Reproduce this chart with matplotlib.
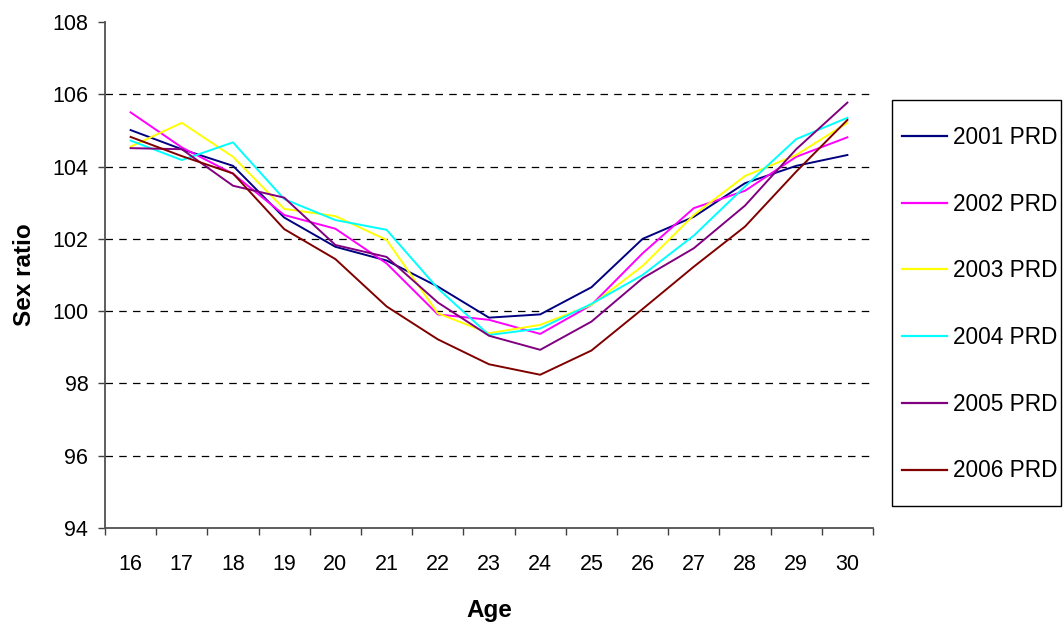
import matplotlib
matplotlib.use("Agg")
import matplotlib.pyplot as plt
from matplotlib.ticker import MultipleLocator, FixedLocator
from matplotlib.patches import Rectangle

plt.rcParams['font.family'] = ['Liberation Sans', 'DejaVu Sans']

ages = list(range(16, 31))
series_names = ["2001 PRD", "2002 PRD", "2003 PRD", "2004 PRD", "2005 PRD", "2006 PRD"]
colors = ["#000080", "#FF00FF", "#FFFF00", "#00FFFF", "#800080", "#800000"]

prd_2001 = [105.01, 104.48, 104.02, 102.59, 101.78, 101.40, 100.68, 99.82, 99.91, 100.66, 102.00, 102.61, 103.54, 104.02, 104.32]
prd_2002 = [105.50, 104.53, 103.80, 102.66, 102.28, 101.32, 99.91, 99.76, 99.37, 100.17, 101.60, 102.85, 103.33, 104.27, 104.81]
prd_2003 = [104.55, 105.21, 104.27, 102.83, 102.63, 101.97, 99.94, 99.39, 99.62, 100.17, 101.25, 102.66, 103.74, 104.32, 105.21]
prd_2004 = [104.72, 104.18, 104.67, 103.10, 102.52, 102.25, 100.63, 99.34, 99.52, 100.20, 101.00, 102.09, 103.45, 104.76, 105.35]
prd_2005 = [104.51, 104.48, 103.47, 103.14, 101.83, 101.50, 100.24, 99.32, 98.93, 99.71, 100.91, 101.74, 102.92, 104.48, 105.77]
prd_2006 = [104.82, 104.29, 103.81, 102.27, 101.44, 100.13, 99.22, 98.53, 98.24, 98.91, 100.06, 101.23, 102.34, 103.86, 105.29]
all_series = [prd_2001, prd_2002, prd_2003, prd_2004, prd_2005, prd_2006]

W, H = 1064, 641
fig = plt.figure(figsize=(W / 100, H / 100), dpi=100)
ax = fig.add_axes([105 / W, 1 - 528 / H, (873 - 105) / W, (528 - 22) / H])

for name, vals, c in zip(series_names, all_series, colors):
    ax.plot(ages, vals, color=c, lw=1.4, label=name)

ax.set_xlim(15.5, 30.5)
ax.set_ylim(94, 108)
ax.yaxis.set_major_locator(MultipleLocator(2))
ax.xaxis.set_major_locator(FixedLocator(ages))
ax.xaxis.set_minor_locator(FixedLocator([a + 0.5 for a in range(15, 31)]))
ax.tick_params(axis='x', which='major', length=0, labelsize=15.5, pad=19)
ax.tick_params(axis='x', which='minor', length=5, direction='out', width=1.0, color='#404040')
ax.tick_params(axis='y', which='major', length=5, direction='out', width=1.0, color='#404040',
               labelsize=15.5, pad=7)

ax.yaxis.grid(True, linestyle=(0, (6, 5)), color='black', lw=0.9)
for gl, t in zip(ax.yaxis.get_gridlines(), ax.get_yticks()):
    if t >= 108 or t <= 94:
        gl.set_visible(False)

for s in ['top', 'right']:
    ax.spines[s].set_visible(False)
for s in ['left', 'bottom']:
    ax.spines[s].set_color('#505050')
    ax.spines[s].set_linewidth(1.3)

ax.set_xlabel("Age", fontsize=17.5, fontweight='bold', labelpad=17)
ax.set_ylabel("Sex ratio", fontsize=17.5, fontweight='bold', labelpad=12)

leg = ax.legend(loc='upper left', bbox_to_anchor=(902 / W, 1 - 126 / H),
                bbox_transform=fig.transFigure, frameon=False,
                fontsize=16.3, labelspacing=1.93, handlelength=2.0, handletextpad=0.25,
                borderpad=0, borderaxespad=0)
for line in leg.get_lines():
    line.set_linewidth(1.6)

fig.patches.append(Rectangle((892 / W, 1 - 506 / H), (1061 - 892) / W, (506 - 100) / H,
                             transform=fig.transFigure, fill=False, edgecolor='black',
                             linewidth=1.0, figure=fig))

fig.savefig("out.png", dpi=100)
